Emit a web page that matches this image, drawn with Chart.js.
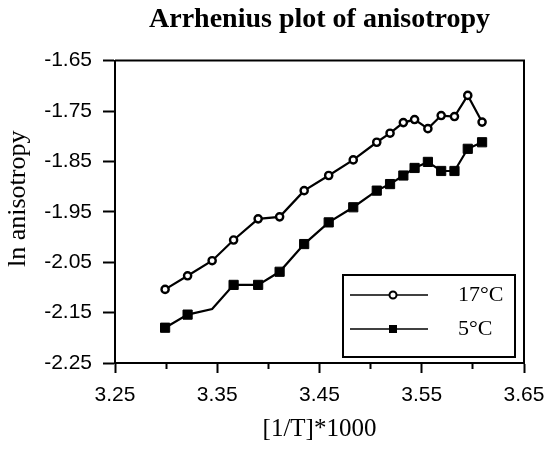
<!DOCTYPE html>
<html>
<head>
<meta charset="utf-8">
<script src="https://cdn.jsdelivr.net/npm/chart.js@4/dist/chart.umd.min.js"></script>
<style>
  html, body { margin: 0; padding: 0; background: #fff; }
  #wrap { width: 544px; height: 457px; }
</style>
</head>
<body>
<div id="wrap"><canvas id="c" width="544" height="457"></canvas></div>
<script>
// ---- data ----
const invT = [3.299, 3.321, 3.345, 3.366, 3.390, 3.411, 3.435, 3.459, 3.483, 3.506, 3.519, 3.532, 3.543, 3.556, 3.569, 3.582, 3.595, 3.609];
const ln17C = [-2.104, -2.077, -2.047, -2.006, -1.964, -1.960, -1.908, -1.878, -1.847, -1.812, -1.794, -1.773, -1.767, -1.785, -1.759, -1.761, -1.719, -1.772];
const ln5C = [-2.180, -2.154, -2.143, -2.095, -2.095, -2.069, -2.014, -1.971, -1.941, -1.908, -1.895, -1.878, -1.863, -1.851, -1.869, -1.869, -1.825, -1.812];
const seriesNames = ['17°C', '5°C'];
const titleText = 'Arrhenius plot of anisotropy';
const xTitle = '[1/T]*1000';
const yTitle = 'ln anisotropy';
const xRange = [3.25, 3.65];
const yRange = [-2.25, -1.65];

const toPts = (xs, ys) => xs.map((x, i) => ({x: x, y: ys[i]}));
// marker lost in the scan for the 3rd 5°C point
const radius5 = ln5C.map((v, i) => i === 2 ? 0 : 6.5);

const frame = {
  id: 'frame',
  afterDatasetsDraw(chart) {
    const {ctx, chartArea: a} = chart;
    ctx.save();
    ctx.strokeStyle = '#000';
    ctx.lineWidth = 2;
    ctx.beginPath();
    ctx.moveTo(a.left, a.top);
    ctx.lineTo(a.right, a.top);
    ctx.lineTo(a.right, a.bottom);
    ctx.stroke();
    ctx.restore();
  }
};

const boxLegend = {
  id: 'boxLegend',
  afterDraw(chart) {
    const {ctx, chartArea: a} = chart;
    const L = a.left + 228, R = a.right - 9, T = a.bottom - 88, B = a.bottom - 6;
    ctx.save();
    ctx.fillStyle = '#fff';
    ctx.fillRect(L, T, R - L, B - T);
    ctx.strokeStyle = '#000';
    ctx.lineWidth = 2;
    ctx.strokeRect(L, T, R - L, B - T);
    const rows = [T + 20, T + 54];
    chart.data.datasets.forEach((ds, i) => {
      const y = rows[i];
      ctx.lineWidth = 1.5;
      ctx.strokeStyle = '#000';
      ctx.beginPath();
      ctx.moveTo(L + 7, y);
      ctx.lineTo(L + 85, y);
      ctx.stroke();
      const mx = L + 50;
      if (i === 0) {
        ctx.beginPath();
        ctx.arc(mx, y, 3.5, 0, Math.PI * 2);
        ctx.fillStyle = '#fff';
        ctx.fill();
        ctx.lineWidth = 2;
        ctx.stroke();
      } else {
        ctx.fillStyle = '#000';
        ctx.fillRect(mx - 4, y - 4, 8, 8);
      }
      ctx.fillStyle = '#000';
      ctx.font = '22px "Liberation Serif"';
      ctx.textBaseline = 'middle';
      ctx.textAlign = 'left';
      ctx.fillText(ds.label, L + 115, y);
    });
    ctx.restore();
  }
};

new Chart(document.getElementById('c'), {
  type: 'line',
  data: {
    datasets: [
      {
        label: seriesNames[0],
        data: toPts(invT, ln17C),
        borderColor: '#000',
        borderWidth: 2.2,
        pointStyle: 'circle',
        pointRadius: 3.6,
        pointBorderWidth: 2.4,
        pointBackgroundColor: '#fff',
        pointBorderColor: '#000',
        tension: 0
      },
      {
        label: seriesNames[1],
        data: toPts(invT, ln5C),
        borderColor: '#000',
        borderWidth: 2.2,
        pointStyle: 'rect',
        pointRadius: radius5,
        pointBorderWidth: 1,
        pointBackgroundColor: '#000',
        pointBorderColor: '#000',
        tension: 0
      }
    ]
  },
  options: {
    responsive: false,
    animation: false,
    devicePixelRatio: 1,
    layout: { padding: { top: 0, right: 20, bottom: 0, left: 0 } },
    plugins: {
      legend: { display: false },
      tooltip: { enabled: false },
      title: {
        display: true,
        text: titleText,
        fullSize: false,
        color: '#000',
        font: { family: 'Liberation Serif', size: 28, weight: 'bold' },
        padding: { top: 3, bottom: 24 }
      }
    },
    scales: {
      x: {
        type: 'linear',
        min: xRange[0],
        max: xRange[1],
        afterFit: s => { s.height = 94; s.paddingRight = 20; s.paddingLeft = 20; },
        ticks: {
          stepSize: 0.05,
          autoSkip: false,
          maxRotation: 0,
          color: '#000',
          padding: 10,
          font: { family: 'Liberation Sans', size: 21 },
          callback: v => (Math.round(v * 100) % 10 === 5) ? v.toFixed(2) : ''
        },
        grid: {
          drawOnChartArea: false,
          tickLength: 10,
          tickColor: '#000',
          tickWidth: 2,
          tickBorderDash: ctx => (ctx.tick && Math.round(ctx.tick.value * 100) % 10 === 5) ? [] : [5, 30]
        },
        border: { color: '#000', width: 2 },
        title: {
          display: true,
          text: xTitle,
          color: '#000',
          font: { family: 'Liberation Serif', size: 25 },
          padding: { top: 0, bottom: 13 }
        }
      },
      y: {
        type: 'linear',
        min: yRange[0],
        max: yRange[1],
        afterFit: s => { s.width = 115; },
        ticks: {
          stepSize: 0.1,
          color: '#000',
          padding: 11,
          font: { family: 'Liberation Sans', size: 21 },
          callback: v => v.toFixed(2)
        },
        grid: {
          drawOnChartArea: false,
          tickLength: 12,
          tickColor: '#000',
          tickWidth: 2
        },
        border: { color: '#000', width: 2 },
        title: {
          display: true,
          text: '\u00a0\u00a0\u00a0\u00a0' + yTitle,
          color: '#000',
          font: { family: 'Liberation Serif', size: 26 },
          padding: { top: 3, bottom: 0 }
        }
      }
    }
  },
  plugins: [frame, boxLegend]
});
</script>
</body>
</html>
